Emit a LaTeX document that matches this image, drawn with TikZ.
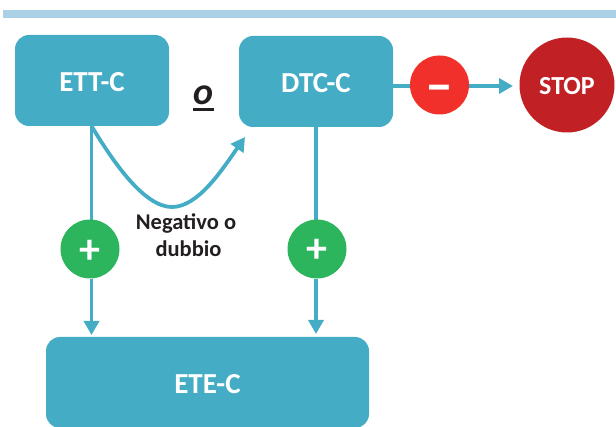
\documentclass[tikz,border=0pt]{standalone}
\usepackage{fontspec}
\setmainfont{Carlito}
\usetikzlibrary{arrows.meta}
\definecolor{teal1}{HTML}{44ADC5}
\definecolor{barc}{HTML}{AAD1E5}
\definecolor{greenc}{HTML}{2DB55D}
\definecolor{redc}{HTML}{F1302C}
\definecolor{stopc}{HTML}{C12025}
\definecolor{inkc}{HTML}{231F20}
\tikzset{
  boxn/.style={fill=teal1,rounded corners=14pt,inner sep=0pt,text=white,text height=22.5pt,text depth=0pt,font=\bfseries\fontsize{29}{29}\selectfont},
  signn/.style={circle,fill=#1,minimum size=59pt,inner sep=0pt,text=white},
  conn/.style={draw=teal1,line width=3.8pt},
  arr/.style={conn,-{Triangle[length=14pt,width=15pt]}},
  lab/.style={text=inkc,font=\bfseries\fontsize{22.5}{27}\selectfont,align=center}
}
\begin{document}
\begin{tikzpicture}[x=1pt,y=-1pt]
\useasboundingbox (0,0) rectangle (616,427);
\fill[barc] (3,10) rectangle (616,18);
\node[boxn,minimum width=154pt,minimum height=91pt] (ett) at (92,80.5) {ETT-C};
\node[boxn,minimum width=154pt,minimum height=91pt] (dtc) at (316,81.5) {DTC-C};
\begin{scope}
\clip (0,0) rectangle (616,427);
\node[boxn,minimum width=323pt,minimum height=91pt] (ete) at (207.5,382.5) {ETE-C};
\end{scope}
\coordinate (ettb) at (91.5,126);
\coordinate (dtcb) at (316,127);
\coordinate (curveend) at (245,137);
\coordinate (tipl) at (91.5,335);
\coordinate (tipr) at (316,334);
\coordinate (tips) at (513,86);
\coordinate (curvemid) at (172,207);
\node[circle,fill=stopc,minimum size=95pt,inner sep=0pt,text=white,text height=20pt,text depth=0pt,font=\bfseries\fontsize{26}{26}\selectfont] (stop) at (567,85) {STOP};
\draw[conn] (ettb) -- (tipl |- 0,230);
\draw[conn] (dtcb) -- (tipr |- 0,230);
\draw[conn] (dtc.east |- tips) -- (430,86);
\draw[arr] (ettb) .. controls (115,165) and (145,207) .. (curvemid) .. controls (198,207) and (222,170) .. (curveend);
\node[signn=greenc] (pl) at (90,249) {};
\node[signn=greenc] (pr) at (317,249) {};
\node[signn=redc] (mn) at (439.5,85) {};
\node[text=white,font=\bfseries\fontsize{42}{42}\selectfont,inner sep=0pt] (plt) at (90,251.5) {+};
\node[text=white,font=\bfseries\fontsize{42}{42}\selectfont,inner sep=0pt] (prt) at (317,250.5) {+};
\node[text=white,font=\bfseries\fontsize{56}{56}\selectfont,inner sep=0pt] (mnt) at (439.5,94) {–};
\draw[arr] (tipl |- pl.south) -- (tipl);
\draw[arr] (tipr |- pr.south) -- (tipr);
\draw[arr] (mn.east |- tips) -- (tips);
\node[lab] (neg) at (186,235.5) {Negativo o\\\hspace*{5pt}dubbio};
\node[inner sep=0pt,text=inkc,font=\bfseries\itshape\fontsize{38}{38}\selectfont] (oo) at (204,95) {o};
\draw[inkc,line width=3pt] (193,110) -- (214,110);
\end{tikzpicture}
\end{document}
